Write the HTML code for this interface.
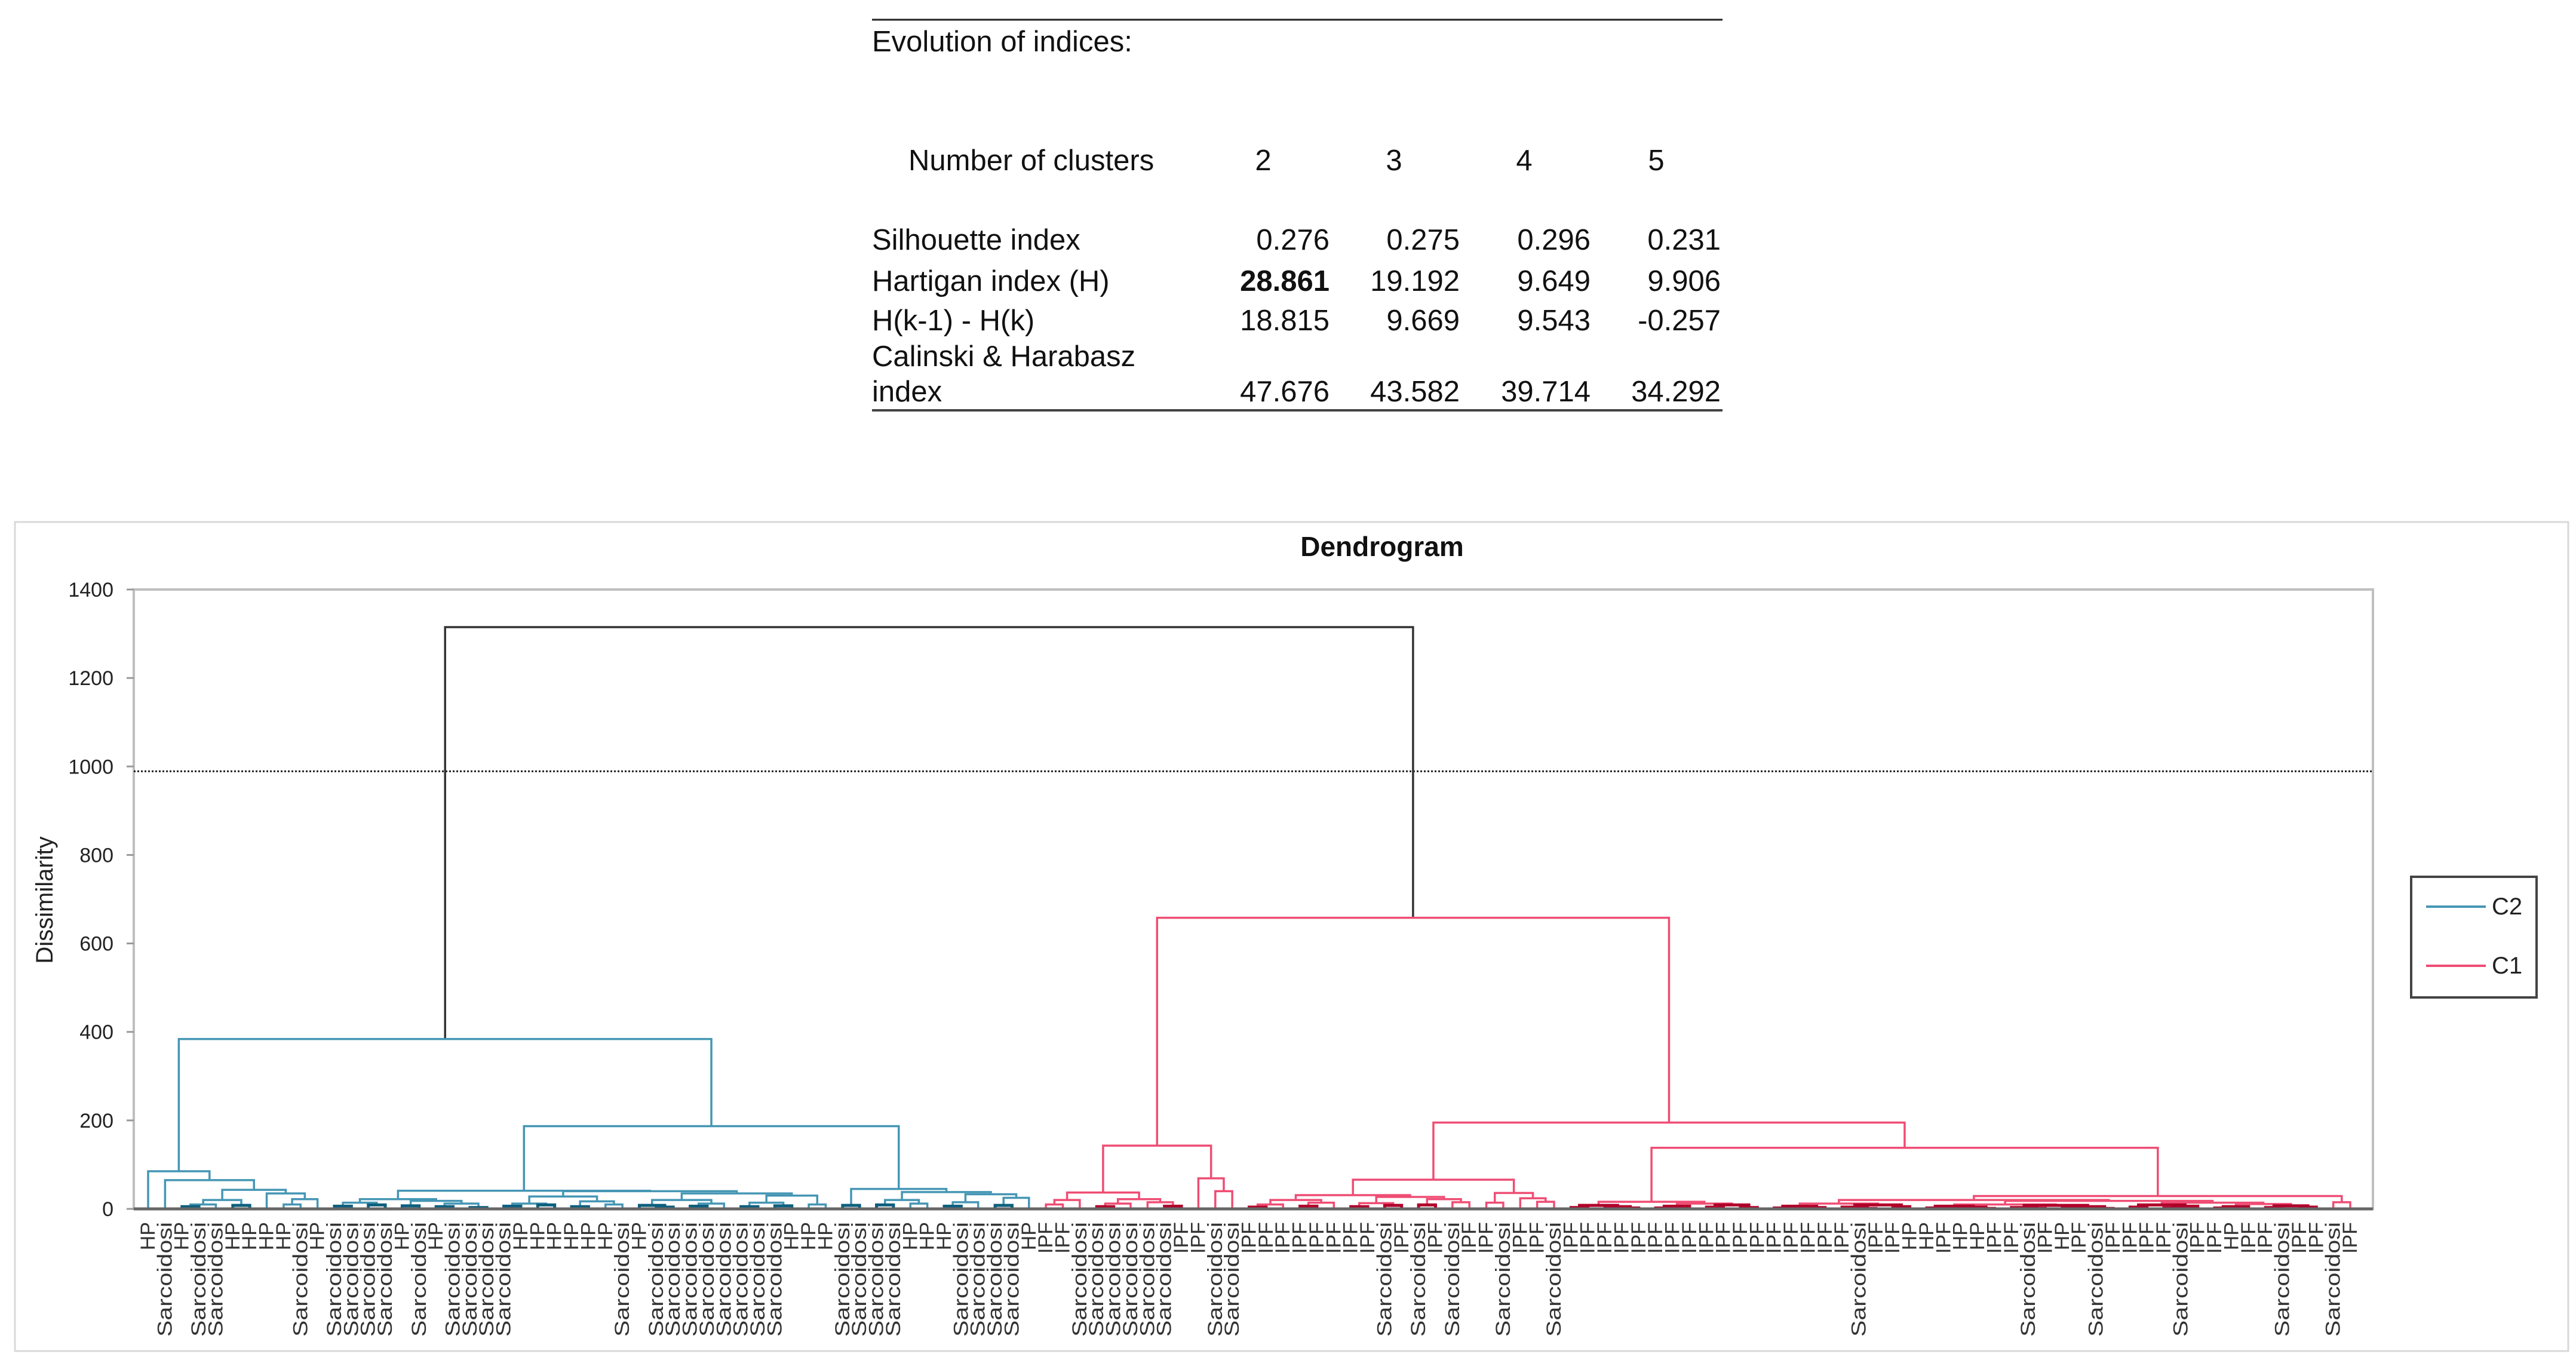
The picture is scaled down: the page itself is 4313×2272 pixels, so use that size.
<!DOCTYPE html>
<html><head><meta charset="utf-8"><style>
html,body{margin:0;padding:0;background:#fff;}
svg{display:block;font-family:"Liberation Sans",Arial,sans-serif;}
</style></head><body>
<svg id="root" width="4313" height="2272" viewBox="0 0 4313 2272" xmlns="http://www.w3.org/2000/svg">
<g id="table"></g>
<g id="chart"></g>
</svg>
<script>
// ---------- table data ----------
const clusterCounts = ["2","3","4","5"];
const rowNames = ["Silhouette index","Hartigan index (H)","H(k-1) - H(k)","index"];
const silhouette = ["0.276","0.275","0.296","0.231"];
const hartigan = ["28.861","19.192","9.649","9.906"];
const hdiff = ["18.815","9.669","9.543","-0.257"];
const calinski = ["47.676","43.582","39.714","34.292"];

// ---------- chart data ----------
const yTicks = [0,200,400,600,800,1000,1200,1400];
const cutLevel = 989;
const legendNames = ["C2","C1"];
const S="Sarcoidosi", H="HP", F="IPF";
const leafLabels = [
 H,S,H,S,S,H,H,H,H,S,H,S,S,S,S,H,S,H,S,S,S,S,H,H,H,H,H,H,S,H,S,S,S,S,S,S,S,S,H,H,H,S,S,S,S,H,H,H,S,S,S,S,H,
 F,F,S,S,S,S,S,S,F,F,S,S,F,
 F,F,F,F,F,F,F,S,F,S,F,S,F,F,S,F,F,S,F,
 F,F,F,F,F,F,F,F,F,F,F,F,F,F,F,
 F,S,F,F,H,H,F,H,H,F,F,S,F,H,F,S,F,F,F,F,S,F,F,H,F,F,S,F,F,S,F
];
// tree nodes: [height, left, right]; 0 = leaf (assigned in order)
const treeBlue = [384,
  [85,0,[65,0,[43,[20,[10,[5,0,0],0],[8,0,0]],[35,0,[22,[10,0,0],0]]]]],
  [187,
    [41,
      [22,[14,[6,0,0],[9,0,0]],[18,[7,0,0],[12,[5,0,0],[3,0,0]]]],
      [40,
        [28,[12,[6,0,0],[9,0,0]],[17,[5,0,0],[10,0,0]]],
        [35,[20,[8,0,[4,0,0]],[12,[6,0,0],0]],[30,[14,[5,0,0],[7,0,0]],[10,0,0]]]]],
    [45,[8,0,0],[38,[20,[9,0,0],[12,0,0]],[33,[15,[6,0,0],0],[25,[8,0,0],0]]]]]];
const treeRed = [658,
  [143,
    [37,[20,[10,0,0],0],[22,[12,[5,0,0],0],[15,0,[6,0,0]]]],
    [69,0,[40,0,0]]],
  [195,
    [66,
      [31,[20,[10,[4,0,0],0],[14,[6,0,0],0]],[27,[13,[5,0,0],[8,0,0]],[22,[9,0,0],[15,0,0]]]],
      [36,[14,0,0],[24,0,[16,0,0]]]],
    [138,
      [16,[8,[3,0,0],[5,0,[2,0,0]]],[12,[6,[2,0,0],0],[9,[4,0,0],[3,0,0]]]],
      [29,
        [20,
          [12,[6,[2,0,0],[3,0,0]],[9,[4,0,[1,0,0]],[5,0,0]]],
          [18,
            [10,[6,[2,0,0],[4,0,[1,0,0]]],[8,[3,0,[1,0,0]],[5,[2,0,0],[1,0,0]]]],
            [14,[9,[4,0,0],[6,[2,0,0],0]],[11,[5,[2,0,0],0],[7,[3,0,0],[4,0,0]]]]]],
        [15,0,0]]]]];
const rootHeight = 1315;

const NS="http://www.w3.org/2000/svg";
function mk(tag, attrs, parent){const e=document.createElementNS(NS,tag);for(const k in attrs)e.setAttribute(k,attrs[k]);parent.appendChild(e);return e;}

// ---------- table ----------
const tg=document.getElementById('table');
const tFont=49;
let e;
e=mk('line',{x1:1460,y1:33,x2:2884,y2:33,stroke:'#222','stroke-width':3},tg);


e=mk('line',{x1:1460,y1:687,x2:2884,y2:687,stroke:'#444','stroke-width':4},tg);


e=mk('text',{x:1460,y:86,'font-size':tFont,fill:'#111'},tg);e.textContent='Evolution of indices:';


e=mk('text',{x:1521,y:285,'font-size':tFont,fill:'#111'},tg);e.textContent='Number of clusters';


const colCenters=[2115,2334,2552,2773];
const colRights=[2226,2444,2663,2881];
clusterCounts.forEach((c,i)=>{
  const t=mk('text',{x:colCenters[i],y:285,'font-size':tFont,'text-anchor':'middle',fill:'#111'},tg);t.textContent=c;
  
  
});
const rowY=[418,487,553,672];
const rowVals=[silhouette,hartigan,hdiff,calinski];
rowNames.forEach((n,r)=>{
  const t=mk('text',{x:1460,y:rowY[r],'font-size':tFont,fill:'#111'},tg);t.textContent=n;
  
  
  rowVals[r].forEach((v,i)=>{
    const c=mk('text',{x:colRights[i],y:rowY[r],'font-size':tFont,'text-anchor':'end',fill:'#111'},tg);c.textContent=v;
    if(r===1&&i===0)c.setAttribute('font-weight','bold');
    
    
  });
});
e=mk('text',{x:1460,y:613,'font-size':tFont,fill:'#111'},tg);e.textContent='Calinski & Harabasz';



// ---------- chart ----------
const cg=document.getElementById('chart');
const PX0=224,PX1=3973,PY0=987,PY1=2024,YMAX=1400;
const yS=v=>PY1-(v/YMAX)*(PY1-PY0);
const X0=248,X1=3935;
const xS=i=>X0+i*(X1-X0)/(leafLabels.length-1);

e=mk('rect',{x:25,y:874,width:4275,height:1388,fill:'#fff',stroke:'#d9d9d9','stroke-width':3},cg);


e=mk('text',{x:2314,y:931,'font-size':46,'font-weight':'bold','text-anchor':'middle',fill:'#111'},cg);e.textContent='Dendrogram';


e=mk('rect',{x:PX0,y:PY0,width:PX1-PX0,height:PY1-PY0,fill:'none',stroke:'#bfbfbf','stroke-width':4},cg);



yTicks.forEach(v=>{
  const t=mk('text',{x:190,y:yS(v)+12,'font-size':34,'text-anchor':'end',fill:'#222'},cg);t.textContent=String(v);
  
  
  const l=mk('line',{x1:PX0-12,y1:yS(v),x2:PX0,y2:yS(v),stroke:'#999','stroke-width':3},cg);
  
  
});
e=mk('text',{x:0,y:0,'font-size':40,'text-anchor':'middle',fill:'#222',transform:'translate(88,1507) rotate(-90)'},cg);e.textContent='Dissimilarity';



e=mk('line',{x1:PX0,y1:yS(cutLevel),x2:PX1,y2:yS(cutLevel),stroke:'#222','stroke-width':3,'stroke-dasharray':'3,3'},cg);



// layout tree
let leafCounter=0;
function layout(node){
  if(node===0){const i=leafCounter++;return {x:xS(i),h:0,leaf:true};}
  const l=layout(node[1]), r=layout(node[2]);
  return {x:(l.x+r.x)/2,h:node[0],l:l,r:r};
}
const blue=layout(treeBlue);
const red=layout(treeRed);
const root={x:(blue.x+red.x)/2,h:rootHeight,l:blue,r:red};

const links=mk('g',{},cg);


function draw(n,color,dark,name){
  if(n.leaf)return;
  const col=n.h<=9?dark:color;
  const sw=n.h<=9?5:3.5;
  const p=mk('path',{d:`M${n.l.x},${yS(n.l.h)}V${yS(n.h)}H${n.r.x}V${yS(n.r.h)}`,fill:'none',stroke:col,'stroke-width':sw},links);
  
  
  draw(n.l,color,dark,name);draw(n.r,color,dark,name);
}
const rp=mk('path',{d:`M${blue.x},${yS(blue.h)}V${yS(root.h)}H${red.x}V${yS(red.h)}`,fill:'none',stroke:'#333','stroke-width':3.5},links);


draw(blue,'#4596b4','#0d5f7e','c2-link');
draw(red,'#ef4d74','#b0002a','c1-link');

e=mk('line',{x1:PX0,y1:PY1,x2:PX1,y2:PY1,stroke:'#666','stroke-width':5},cg);



leafLabels.forEach((lab,i)=>{
  const x=xS(i);
  const t=mk('text',{x:x,y:2046,'font-size':34,'text-anchor':'end','dominant-baseline':'central',fill:'#333',transform:`rotate(-90 ${x} 2046)`},cg);
  if(lab===S){t.setAttribute('textLength','192');t.setAttribute('lengthAdjust','spacingAndGlyphs');}
  t.textContent=lab;
  
  
});

// legend
const lg=mk('g',{},cg);


e=mk('rect',{x:4037,y:1468,width:210,height:202,fill:'#fff',stroke:'#444','stroke-width':4},lg);


const legendCols=['#4596b4','#ef4d74'];
legendNames.forEach((n,i)=>{
  const y=1518+i*99;
  const l=mk('line',{x1:4062,y1:y,x2:4162,y2:y,stroke:legendCols[i],'stroke-width':4},lg);
  
  
  const t=mk('text',{x:4172,y:y+13,'font-size':40,fill:'#222'},lg);t.textContent=n;
  
  
});
</script>
</body></html>
